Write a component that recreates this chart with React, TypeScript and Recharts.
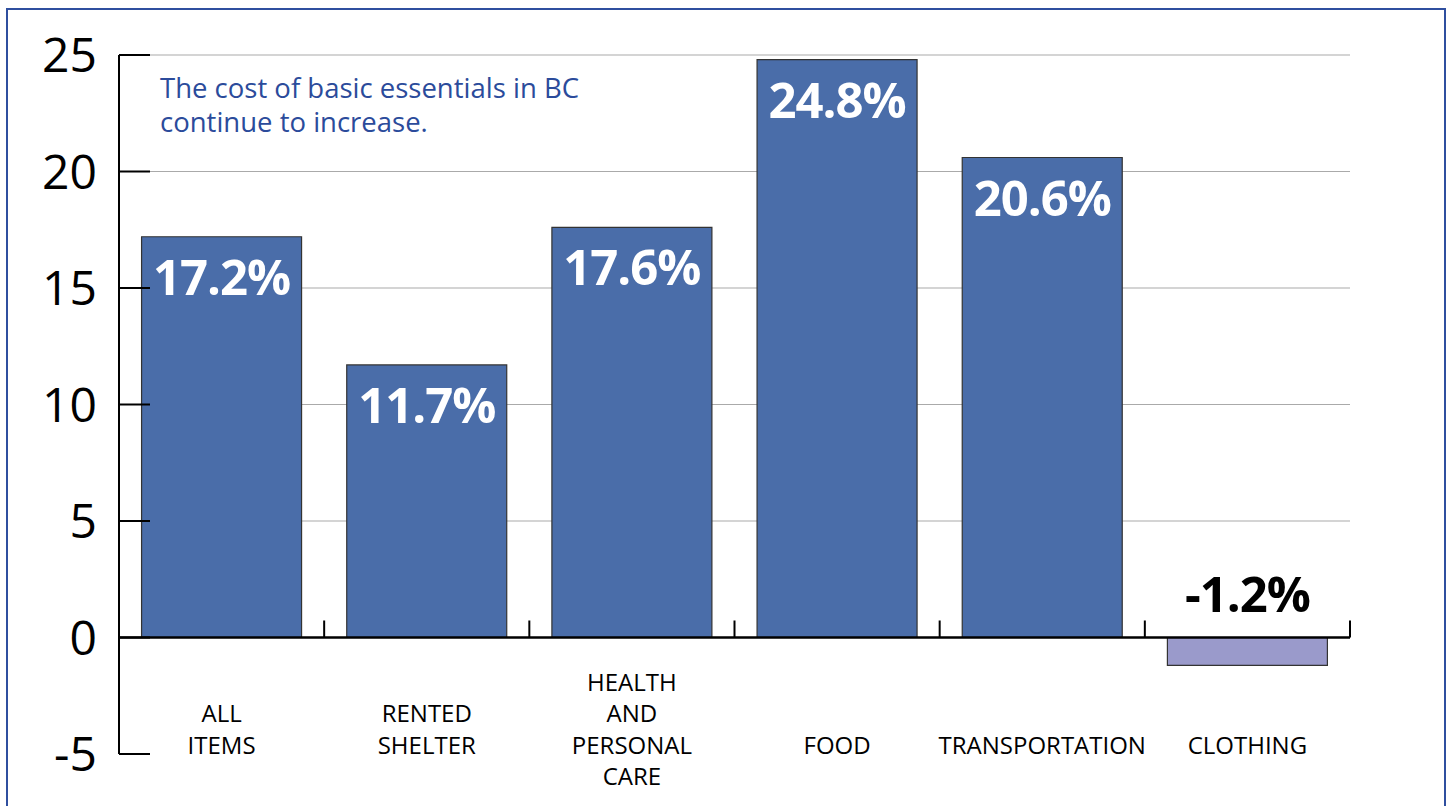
import { BarChart, Bar, XAxis, YAxis, CartesianGrid, ReferenceLine, LabelList, Cell } from 'recharts';

const categories = ['ALL ITEMS', 'RENTED SHELTER', 'HEALTH AND PERSONAL CARE', 'FOOD', 'TRANSPORTATION', 'CLOTHING'];
const labelLines = [['ALL', 'ITEMS'], ['RENTED', 'SHELTER'], ['HEALTH', 'AND', 'PERSONAL', 'CARE'], ['FOOD'], ['TRANSPORTATION'], ['CLOTHING']];
const changes = [17.2, 11.7, 17.6, 24.8, 20.6, -1.2];
const yTicks = [-5, 0, 5, 10, 15, 20, 25];
const gridValues = [5, 10, 15, 20, 25];
const note = ['The cost of basic essentials in BC', 'continue to increase.'];

const data = categories.map((name, i) => ({ name, value: changes[i] }));

const FONT = '"Open Sans", "Noto Sans", sans-serif';
const BAR = '#4a6da9';
const BAR_NEG = '#9a9acb';

function YTick({ x, y, payload }: any) {
    return (
        <g>
            <line x1={x} x2={x + 31} y1={y} y2={y} stroke="#000" strokeWidth={2} />
            <text x={x - 22} y={y} dy={17} textAnchor="end" fontFamily={FONT} fontSize={48} fill="#000">
                {payload.value}
            </text>
        </g>
    );
}

function XTick({ x, y, index }: any) {
    const lines = labelLines[index] || [];
    const n = lines.length;
    return (
        <g>
            {lines.map((t, i) => {
                const by = n === 1 ? y : y - 16 + (i - (n - 1) / 2) * 31.5;
                return (
                    <text key={t} x={x} y={by} textAnchor="middle" fontFamily={FONT} fontSize={24} fill="#000">
                        {t}
                    </text>
                );
            })}
        </g>
    );
}

function ValueLabel({ x, y, width, height, value }: any) {
    const neg = value < 0;
    const top = Math.min(y, y + height);
    return (
        <text
            x={x + width / 2}
            y={neg ? top - 26 : top + 58}
            textAnchor="middle"
            fontFamily={FONT}
            fontWeight={700}
            fontSize={49}
            letterSpacing={-1}
            fill={neg ? '#000' : '#fff'}
        >
            {`${value.toFixed(1)}%`}
        </text>
    );
}

export default function App() {
    return (
        <div style={{ position: 'absolute', left: 0, top: 0, width: 1447, height: 806, overflow: 'hidden', background: '#fff' }}>
            <div style={{ position: 'absolute', left: 6, top: 8, width: 1436, height: 830, border: '2px solid #2f4f9f' }} />
            <div style={{ position: 'absolute', left: 160, top: 71, color: '#2b4b9b', fontFamily: FONT, fontSize: 27.5, lineHeight: '34px' }}>
                {note.map(l => <div key={l}>{l}</div>)}
            </div>
            <div style={{ position: 'absolute', left: 0, top: 0 }}>
                <BarChart
                    width={1447}
                    height={806}
                    data={data}
                    margin={{ top: 55, right: 97, left: 19, bottom: 12 }}
                    barCategoryGap="11%"
                >
                    <CartesianGrid horizontal vertical={false} horizontalValues={gridValues} stroke="#aaa" strokeWidth={1.2} />
                    <XAxis
                        dataKey="name"
                        height={40}
                        axisLine={false}
                        tickLine={false}
                        tickSize={0}
                        tickMargin={0}
                        interval={0}
                        tick={<XTick />}
                    />
                    <YAxis
                        domain={[-5, 25]}
                        ticks={yTicks}
                        width={100}
                        axisLine={{ stroke: '#000', strokeWidth: 2 }}
                        tickLine={false}
                        tickSize={0}
                        tickMargin={0}
                        interval={0}
                        tick={<YTick />}
                    />
                    <Bar dataKey="value" stroke="#333" strokeWidth={1.2} isAnimationActive={false}>
                        {data.map((d, i) => (
                            <Cell key={`cell-${i}`} fill={d.value < 0 ? BAR_NEG : BAR} />
                        ))}
                        <LabelList dataKey="value" content={<ValueLabel />} />
                    </Bar>
                    <ReferenceLine y={0} stroke="#000" strokeWidth={2.5} />
                    {categories.map(c => (
                        <ReferenceLine
                            key={c}
                            segment={[{ x: c, y: 0 }, { x: c, y: 0.73 }]}
                            position="end"
                            stroke="#000"
                            strokeWidth={2}
                        />
                    ))}
                </BarChart>
            </div>
        </div>
    );
}
